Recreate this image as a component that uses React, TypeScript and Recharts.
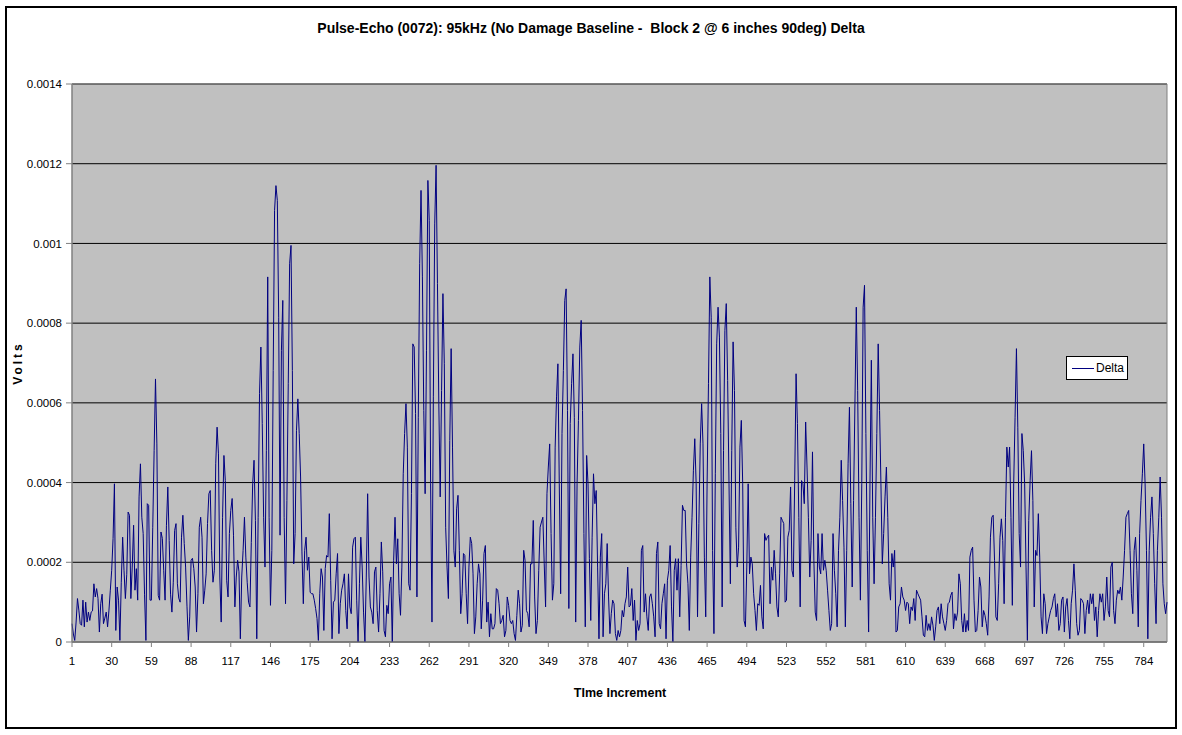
import { LineChart, Line, XAxis, YAxis, CartesianGrid, ReferenceArea, Legend } from 'recharts';

// Delta signal in microvolts (1 µV = 0.000001 V)
const deltaMicroVolts = [
  46, 20, 4, 50, 109, 80, 46, 42, 105, 38, 100, 50, 75, 54, 75, 78, 146, 113, 134, 109,
  25, 96, 120, 46, 60, 75, 38, 80, 130, 180, 260, 397, 29, 138, 105, 4, 150, 263, 180, 109,
  170, 326, 318, 109, 188, 293, 130, 184, 105, 364, 447, 313, 272, 120, 4, 347, 343, 105, 105, 288,
  480, 660, 497, 117, 105, 276, 260, 180, 105, 293, 389, 255, 120, 75, 150, 280, 297, 146, 110, 100,
  263, 318, 247, 188, 90, 4, 63, 205, 210, 184, 138, 25, 121, 288, 313, 263, 96, 130, 171, 297,
  372, 380, 230, 150, 180, 447, 539, 472, 163, 50, 313, 468, 405, 155, 113, 272, 330, 360, 268, 88,
  163, 205, 176, 8, 163, 230, 313, 213, 150, 100, 88, 250, 397, 456, 305, 8, 313, 623, 740, 548,
  313, 188, 480, 916, 313, 92, 230, 681, 1083, 1145, 1108, 815, 268, 732, 857, 313, 96, 355, 648, 949,
  995, 681, 196, 272, 531, 610, 523, 414, 226, 96, 230, 263, 180, 213, 125, 121, 121, 105, 84, 59,
  4, 121, 184, 163, 29, 184, 217, 213, 322, 155, 8, 100, 105, 171, 222, 21, 96, 130, 146, 171,
  79, 33, 171, 88, 71, 238, 259, 263, 105, 0, 146, 263, 188, 75, 0, 163, 372, 163, 88, 75,
  46, 176, 188, 79, 25, 121, 251, 176, 29, 13, 92, 71, 146, 163, 0, 205, 313, 196, 259, 121,
  67, 188, 422, 523, 598, 489, 146, 130, 372, 748, 740, 573, 113, 564, 949, 1133, 916, 581, 372, 732,
  1158, 1058, 397, 50, 615, 1049, 1196, 899, 598, 364, 631, 874, 698, 288, 188, 109, 506, 736, 489, 230,
  188, 334, 368, 230, 71, 121, 222, 217, 121, 46, 188, 263, 247, 171, 21, 63, 146, 196, 171, 33,
  105, 222, 242, 50, 100, 13, 71, 33, 33, 46, 134, 130, 96, 46, 54, 67, 13, 29, 113, 92,
  54, 46, 54, 21, 4, 67, 130, 96, 25, 42, 230, 205, 79, 71, 38, 196, 196, 305, 113, 21,
  54, 180, 288, 301, 313, 196, 88, 372, 439, 497, 272, 105, 146, 489, 615, 698, 397, 121, 523, 681,
  857, 886, 581, 84, 548, 648, 723, 564, 50, 397, 556, 740, 807, 581, 272, 38, 468, 397, 209, 54,
  263, 422, 347, 380, 188, 8, 213, 272, 13, 121, 146, 247, 113, 21, 71, 105, 96, 21, 4, 29,
  13, 29, 79, 63, 96, 113, 188, 88, 92, 134, 54, 105, 4, 54, 29, 46, 230, 242, 75, 121,
  63, 29, 113, 121, 96, 63, 13, 222, 251, 46, 33, 96, 121, 146, 8, 155, 180, 242, 88, 0,
  180, 209, 130, 209, 63, 192, 343, 330, 330, 196, 146, 29, 213, 313, 431, 510, 397, 63, 297, 497,
  598, 497, 213, 63, 397, 648, 916, 815, 230, 21, 422, 748, 840, 765, 523, 88, 480, 782, 849, 656,
  397, 146, 480, 753, 631, 288, 188, 238, 489, 556, 397, 54, 38, 188, 397, 171, 213, 196, 121, 79,
  29, 96, 92, 142, 63, 33, 272, 255, 263, 268, 96, 188, 155, 230, 171, 88, 63, 171, 313, 305,
  297, 100, 105, 263, 280, 389, 180, 163, 405, 673, 548, 313, 88, 405, 397, 347, 552, 439, 313, 163,
  255, 477, 205, 75, 54, 272, 188, 171, 272, 180, 205, 180, 130, 79, 29, 46, 272, 180, 121, 38,
  230, 313, 456, 355, 238, 38, 230, 447, 589, 347, 138, 355, 598, 840, 631, 313, 105, 397, 840, 895,
  523, 230, 25, 397, 707, 313, 146, 313, 523, 748, 581, 397, 196, 272, 364, 439, 313, 146, 105, 222,
  188, 230, 25, 29, 88, 96, 138, 113, 105, 79, 100, 96, 46, 88, 79, 109, 54, 130, 121, 113,
  105, 63, 17, 13, 67, 29, 46, 29, 63, 42, 4, 38, 79, 88, 46, 96, 63, 46, 29, 54,
  96, 100, 117, 125, 33, 71, 54, 75, 171, 146, 54, 25, 71, 25, 54, 29, 213, 230, 238, 105,
  25, 29, 79, 163, 138, 38, 79, 67, 46, 17, 113, 263, 313, 318, 205, 63, 54, 146, 263, 309,
  255, 96, 313, 489, 439, 489, 313, 92, 397, 564, 736, 539, 272, 188, 523, 480, 397, 188, 4, 305,
  405, 480, 355, 88, 230, 217, 322, 213, 63, 21, 121, 96, 21, 46, 63, 79, 88, 109, 121, 63,
  96, 29, 46, 105, 113, 25, 88, 109, 54, 8, 96, 130, 196, 130, 46, 17, 29, 109, 105, 96,
  21, 79, 105, 71, 121, 96, 121, 54, 88, 13, 79, 121, 100, 121, 54, 88, 163, 79, 63, 188,
  200, 79, 46, 105, 130, 121, 138, 105, 163, 230, 313, 322, 330, 230, 121, 71, 230, 263, 180, 38,
  272, 355, 422, 497, 397, 230, 8, 230, 313, 364, 272, 146, 46, 230, 313, 414, 313, 146, 96, 71,
  100,
];

const xTicks = [1, 30, 59, 88, 117, 146, 175, 204, 233, 262, 291, 320, 349, 378, 407, 436, 465, 494, 523, 552, 581, 610, 639, 668, 697, 726, 755, 784];
const yTicks = [0, 0.0002, 0.0004, 0.0006, 0.0008, 0.001, 0.0012, 0.0014];

const data = deltaMicroVolts.map((uv, i) => ({ t: i + 1, delta: uv / 1e6 }));

const FONT = '"Liberation Sans", Arial, sans-serif';

function LegendBox() {
  return (
    <div
      style={{
        border: '1px solid #000',
        background: '#fff',
        height: 24,
        display: 'flex',
        alignItems: 'center',
        fontFamily: FONT,
        fontSize: 12,
        color: '#000',
        boxSizing: 'border-box',
      }}
    >
      <span style={{ display: 'inline-block', width: 22, borderTop: '1px solid #000080', marginLeft: 5, marginRight: 2 }} />
      Delta
    </div>
  );
}

export default function App() {
  return (
    <div style={{ position: 'absolute', left: 0, top: 0, width: 1182, height: 735, background: '#fff' }}>
      <LineChart width={1182} height={735} data={data} margin={{ top: 84, right: 15, bottom: 33, left: 12 }}>
        <CartesianGrid vertical={false} stroke="#000" fill="#C0C0C0" fillOpacity={1} />
        <ReferenceArea x1={1} x2={801} y1={0} y2={0.0014} fill="none" stroke="#808080" strokeWidth={1} ifOverflow="visible" />
        <XAxis
          dataKey="t"
          type="number"
          domain={[1, 801]}
          ticks={xTicks}
          interval={0}
          height={60}
          stroke="#808080"
          tickSize={5}
          tickMargin={10}
          tick={{ fontSize: 11.5, fill: '#000', fontFamily: FONT }}
        />
        <YAxis
          domain={[0, 0.0014]}
          ticks={yTicks}
          interval={0}
          width={60}
          stroke="#808080"
          tickSize={6}
          tickMargin={4}
          tick={{ fontSize: 11.5, fill: '#000', fontFamily: FONT }}
        />
        <Legend
          layout="horizontal"
          verticalAlign="middle"
          align="center"
          wrapperStyle={{ left: 1066, top: 356, width: 62, height: 26 }}
          content={() => <LegendBox />}
        />
        <Line
          type="linear"
          dataKey="delta"
          name="Delta"
          stroke="#000080"
          strokeWidth={1}
          dot={false}
          activeDot={false}
          isAnimationActive={false}
        />
      </LineChart>
      <svg width={1182} height={735} style={{ position: 'absolute', left: 0, top: 0, pointerEvents: 'none' }}>
        <rect x={6} y={7} width={1170} height={721} fill="none" stroke="#000" strokeWidth={2} />
        <text
          x={591}
          y={33}
          textAnchor="middle"
          fontFamily={FONT}
          fontSize={14}
          fontWeight="bold"
          style={{ whiteSpace: 'pre' }}
        >
          {'Pulse-Echo (0072): 95kHz (No Damage Baseline -  Block 2 @ 6 inches 90deg) Delta'}
        </text>
        <text
          x={22}
          y={363}
          textAnchor="middle"
          transform="rotate(-90 22 363)"
          fontFamily={FONT}
          fontSize={12}
          fontWeight="bold"
          letterSpacing={3}
        >
          Volts
        </text>
        <text x={620} y={697} textAnchor="middle" fontFamily={FONT} fontSize={12.5} fontWeight="bold">
          TIme Increment
        </text>
      </svg>
    </div>
  );
}
